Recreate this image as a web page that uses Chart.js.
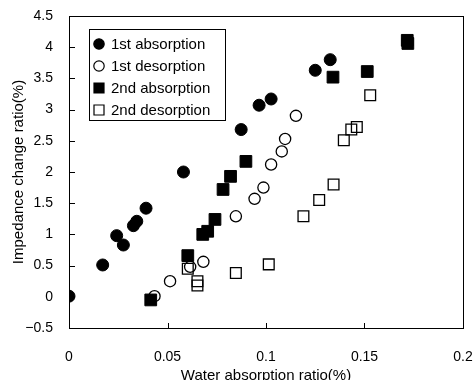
<!DOCTYPE html>
<html>
<head>
<meta charset="utf-8">
<script src="https://cdn.jsdelivr.net/npm/chart.js@4/dist/chart.umd.min.js"></script>
<style>
  html, body { margin: 0; padding: 0; background: #fff; }
  #wrap { width: 474px; height: 380px; }
</style>
</head>
<body>
<div id="wrap"><canvas id="chart" width="474" height="380"></canvas></div>
<script>
// values
var abs1X = [0, 0.0171, 0.0242, 0.0276, 0.0327, 0.0344, 0.0391, 0.0581, 0.0874, 0.0965, 0.1026, 0.125, 0.1326];
var abs1Y = [0.01, 0.51, 0.98, 0.83, 1.14, 1.21, 1.42, 2.0, 2.68, 3.07, 3.17, 3.63, 3.80];

var des1X = [0.0434, 0.0513, 0.0615, 0.0682, 0.0847, 0.0942, 0.0987, 0.1026, 0.108, 0.1097, 0.1152];
var des1Y = [0.01, 0.25, 0.48, 0.56, 1.29, 1.57, 1.75, 2.12, 2.33, 2.53, 2.90];

var abs2X = [0.0415, 0.0603, 0.0679, 0.0704, 0.0741, 0.0782, 0.082, 0.0898, 0.134, 0.1514, 0.1717, 0.172];
var abs2Y = [-0.05, 0.66, 1.0, 1.05, 1.24, 1.72, 1.93, 2.17, 3.52, 3.61, 4.11, 4.06];

var des2X = [0.0603, 0.0652, 0.0652, 0.0847, 0.1014, 0.119, 0.127, 0.1343, 0.1395, 0.1433, 0.1461, 0.1529];
var des2Y = [0.45, 0.25, 0.18, 0.38, 0.52, 1.29, 1.55, 1.80, 2.51, 2.68, 2.72, 3.23];

var seriesNames = ["1st absorption", "1st desorption", "2nd absorption", "2nd desorption"];
var xTitle = "Water absorption ratio(%)";
var yTitle = "Impedance change ratio(%)";

function pts(xs, ys) {
    return xs.map((x, i) => ({ x: x, y: ys[i] }));
}

function fmt(v) {
    var s = String(+v.toFixed(2));
    return s.replace("-", "\u2212");
}

const fontFamily = "'Liberation Sans', Arial, sans-serif";

// top/right frame, inward tick marks and the boxed legend
const framePlugin = {
    id: 'frame',
    afterDraw(chart) {
        const ctx = chart.ctx;
        const xs = chart.scales.x, ys = chart.scales.y;
        const L = Math.round(xs.left), R = Math.round(xs.right);
        const T = Math.round(ys.top), B = Math.round(ys.bottom);
        ctx.save();
        ctx.fillStyle = 'black';
        ctx.fillRect(L, T, R - L + 1, 1);
        ctx.fillRect(R, T, 1, B - T + 1);
        ys.ticks.forEach(t => {
            const py = Math.round(ys.getPixelForValue(t.value));
            ctx.fillRect(L, py, 6, 1);
        });
        xs.ticks.forEach(t => {
            const px = Math.round(xs.getPixelForValue(t.value));
            ctx.fillRect(px, B - 5, 1, 6);
        });

        // legend
        const lx = 89.5, ly = 29.5, lw = 136, lh = 91;
        ctx.strokeStyle = 'black';
        ctx.lineWidth = 1;
        ctx.fillStyle = 'white';
        ctx.fillRect(lx, ly, lw, lh);
        ctx.strokeRect(lx, ly, lw, lh);
        ctx.font = '15px ' + fontFamily;
        ctx.textBaseline = 'middle';
        ctx.textAlign = 'left';
        chart.data.datasets.forEach((ds, i) => {
            const cy = 44 + i * 22;
            const cx = 99;
            ctx.beginPath();
            ctx.lineWidth = 1.2;
            if (ds.pointStyle === 'circle') {
                ctx.arc(cx, cy, 5.2, 0, Math.PI * 2);
            } else {
                ctx.rect(cx - 5, cy - 5, 10, 10);
            }
            if (ds.filled) {
                ctx.fillStyle = 'black';
                ctx.fill();
            }
            ctx.strokeStyle = 'black';
            ctx.stroke();
            ctx.fillStyle = 'black';
            ctx.fillText(ds.label, 111, cy + 1);
        });
        ctx.restore();
    }
};

function series(label, data, style, filled) {
    const circle = style === 'circle';
    return {
        label: label,
        data: data,
        filled: filled,
        showLine: false,
        pointStyle: style,
        pointRadius: circle ? (filled ? 6 : 5.6) : (filled ? 8.3 : 7.6),
        pointHoverRadius: circle ? 6 : 8,
        pointBorderWidth: filled ? 1 : 1.3,
        pointBorderColor: '#000',
        pointBackgroundColor: filled ? '#000' : 'rgba(0,0,0,0)'
    };
}

const config = {
    type: 'scatter',
    data: {
        datasets: [
            series(seriesNames[0], pts(abs1X, abs1Y), 'circle', true),
            series(seriesNames[1], pts(des1X, des1Y), 'circle', false),
            series(seriesNames[2], pts(abs2X, abs2Y), 'rect', true),
            series(seriesNames[3], pts(des2X, des2Y), 'rect', false)
        ]
    },
    options: {
        responsive: false,
        animation: false,
        layout: { padding: { left: 0, top: 16, right: 11, bottom: 0 } },
        plugins: {
            legend: { display: false },
            tooltip: { enabled: false }
        },
        scales: {
            x: {
                type: 'linear',
                min: 0,
                max: 0.2,
                ticks: {
                    stepSize: 0.05,
                    callback: (v) => fmt(v),
                    color: '#000',
                    font: { family: fontFamily, size: 14 },
                    padding: 21,
                    maxRotation: 0
                },
                grid: { display: false, drawTicks: false },
                border: { display: true, color: '#000', width: 1 },
                title: {
                    display: true,
                    text: xTitle,
                    color: '#000',
                    font: { family: fontFamily, size: 15 },
                    padding: { top: 0, bottom: -5 }
                },
                afterFit(scale) {
                    scale.height = 52;
                    scale.paddingLeft = 0;
                    scale.paddingRight = 0;
                }
            },
            y: {
                type: 'linear',
                min: -0.5,
                max: 4.5,
                ticks: {
                    stepSize: 0.5,
                    callback: (v) => fmt(v),
                    color: '#000',
                    font: { family: fontFamily, size: 14 },
                    padding: 16
                },
                grid: { display: false, drawTicks: false },
                border: { display: true, color: '#000', width: 1 },
                title: {
                    display: true,
                    text: yTitle,
                    color: '#000',
                    font: { family: fontFamily, size: 15 },
                    padding: { top: 10, bottom: 0 }
                },
                afterFit(scale) {
                    scale.width = 69;
                    scale.paddingTop = 0;
                    scale.paddingBottom = 0;
                }
            }
        }
    },
    plugins: [framePlugin]
};

var chart = new Chart(document.getElementById('chart'), config);
</script>
</body>
</html>
